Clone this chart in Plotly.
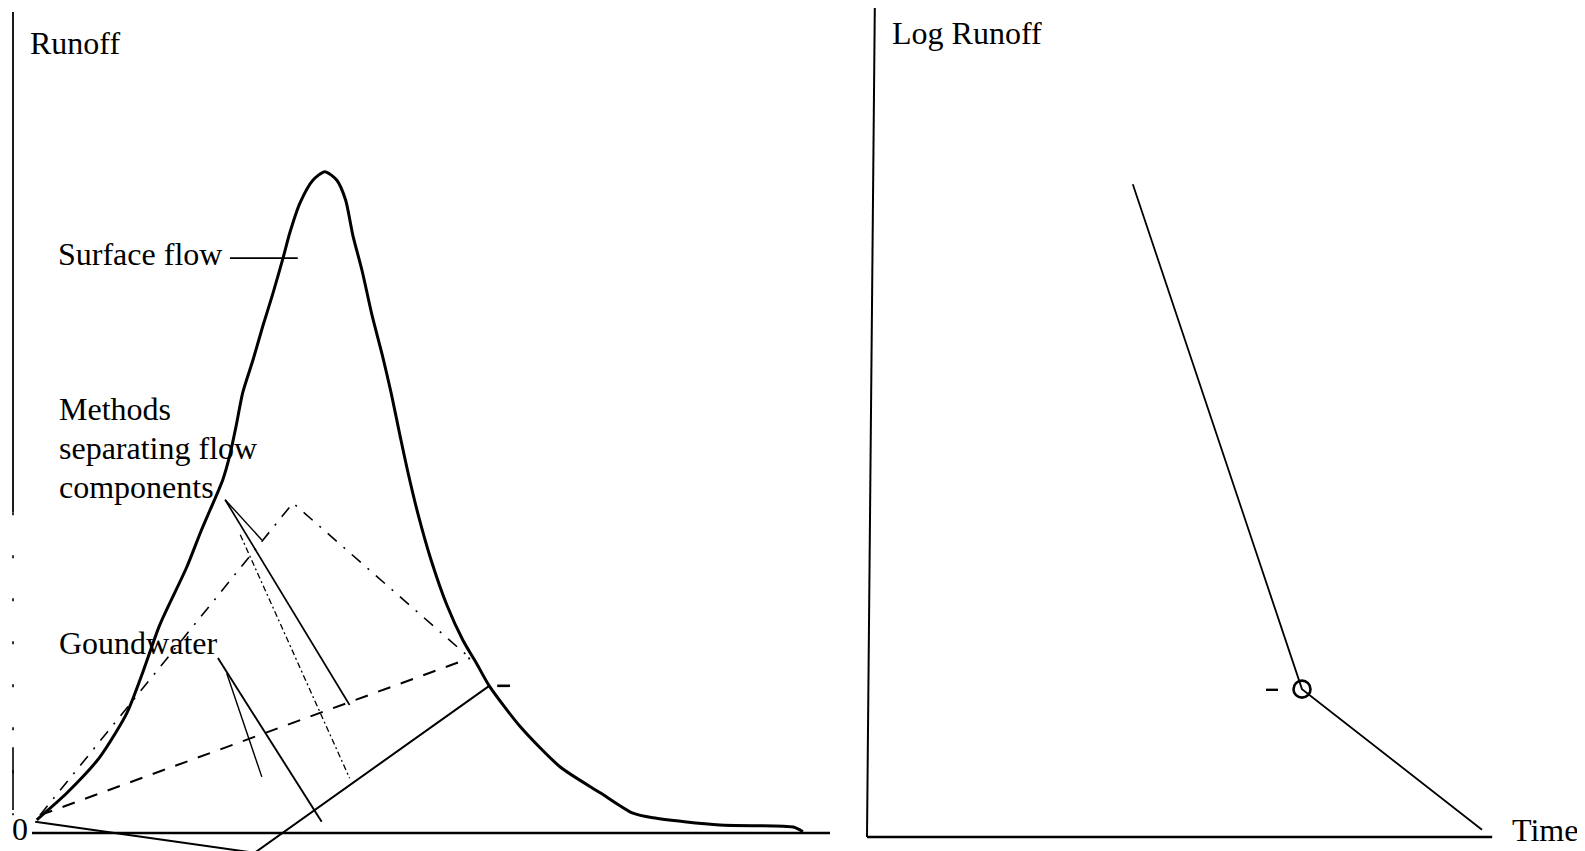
import plotly.graph_objects as go

# ---------------- data (conceptual units) ----------------
# Left panel: hydrograph (time vs runoff)
hydro_time = [0.06, 0.44, 0.85, 1.19, 1.39, 1.60, 1.94, 2.11, 2.23, 2.39, 2.48, 2.56, 2.64,
              2.77, 2.89, 3.02, 3.15, 3.23, 3.36, 3.52, 3.67, 3.82, 3.93, 4.02, 4.14, 4.26,
              4.39, 4.50, 4.61, 4.71, 4.84, 5.00, 5.20, 5.40, 5.58, 5.73, 6.12, 6.62, 7.12,
              7.53, 7.78, 8.62, 9.54, 9.66]
hydro_runoff = [0.20, 0.61, 1.15, 1.82, 2.44, 3.15, 4.03, 4.55, 4.89, 5.35, 5.73, 6.18, 6.67,
                7.17, 7.67, 8.18, 8.73, 9.09, 9.55, 9.89, 10.02, 9.89, 9.59, 9.06, 8.50, 7.85,
                7.24, 6.67, 6.03, 5.47, 4.82, 4.14, 3.45, 2.92, 2.55, 2.23, 1.61, 1.00, 0.61,
                0.30, 0.23, 0.12, 0.09, 0.02]

# separation methods
sep_solid_time = [0.04, 2.79, 5.73]
sep_solid_runoff = [0.17, -0.30, 2.23]
sep_dash_time = [0.10, 5.49]
sep_dash_runoff = [0.27, 2.65]
sep_dashdot_time = [0.10, 3.27, 5.49]
sep_dashdot_runoff = [0.27, 5.00, 2.65]

# label leader lines
surface_leader_time = [2.48, 3.33]
surface_leader_runoff = [8.71, 8.71]
comp_leader1_time = [2.42, 3.98]
comp_leader1_runoff = [5.05, 1.94]
comp_leader_short_time = [2.42, 2.88]
comp_leader_short_runoff = [5.05, 4.44]
comp_leader2_time = [2.61, 3.98]
comp_leader2_runoff = [4.52, 0.83]
gw_leader1_time = [2.33, 3.63]
gw_leader1_runoff = [2.65, 0.17]
gw_leader2_time = [2.44, 2.88]
gw_leader2_runoff = [2.42, 0.85]
left_tick_time = [5.83, 5.99]
left_tick_runoff = [2.23, 2.23]

# left axes lines
left_xaxis_time = [0.0, 10.0]
left_xaxis_runoff = [0.0, 0.0]
left_yaxis_time = [-0.238, -0.238]
left_yaxis_runoff = [12.44, 4.86]
left_yaxis_low_runoff = [4.86, 0.27]
left_yaxis_piece_runoff = [1.30, 0.35]

# Right panel: log runoff recession
log_time = [4.43, 7.25, 10.25]
log_runoff = [9.89, 2.24, 0.11]
break_time = [7.25]
break_runoff = [2.24]
right_tick_time = [6.65, 6.85]
right_tick_runoff = [2.23, 2.23]
right_xaxis_time = [0.0, 10.42]
right_xaxis_runoff = [0.0, 0.0]
right_yaxis_time = [0.13, 0.0]
right_yaxis_runoff = [12.56, 0.0]

# text labels (text, x, y, vertical anchor)
left_labels = [
    ("Runoff", -0.05, 11.97, "middle"),
    ("Surface flow", 0.30, 8.77, "middle"),
    ("Methods", 0.31, 6.42, "middle"),
    ("separating flow", 0.31, 5.83, "middle"),
    ("components", 0.31, 5.24, "middle"),
    ("Goundwater", 0.31, 2.88, "middle"),
    ("0", -0.27, -0.24, "bottom"),
]
right_labels = [
    ("Log Runoff", 0.38, 12.18, "middle"),
    ("Time", 10.72, -0.19, "bottom"),
]

# ---------------- layout mapping ----------------
W, H = 1585, 851
OFF = 8  # default page body margin
FW, FH = W - OFF, H - OFF
SPLIT = 845 - OFF
L_X0, L_SX, L_Y0, L_SY = 32 - OFF, 79.8, 833 - OFF, 66
R_X0, R_SX, R_Y0, R_SY = 867 - OFF, 60, 837 - OFF, 66

FONT = dict(family="Liberation Serif, Times New Roman, serif", size=32, color="black")

fig = go.Figure()


def add_line(x, y, ax, width=2.0, dash="solid", shape="linear"):
    fig.add_trace(go.Scatter(
        x=x, y=y, mode="lines", xaxis=ax[0], yaxis=ax[1],
        line=dict(color="black", width=width, dash=dash, shape=shape,
                  smoothing=0.7 if shape == "spline" else None),
        hoverinfo="skip", showlegend=False))


L = ("x", "y")
R = ("x2", "y2")

# left axes
add_line(left_xaxis_time, left_xaxis_runoff, L, width=2.6)
add_line(left_yaxis_time, left_yaxis_runoff, L, width=1.8)
add_line(left_yaxis_time, left_yaxis_low_runoff, L, width=1.6, dash="3px,40px")
add_line(left_yaxis_time, left_yaxis_piece_runoff, L, width=1.6)

# hydrograph
add_line(hydro_time, hydro_runoff, L, width=3.0, shape="spline")
add_line(sep_solid_time, sep_solid_runoff, L, width=2.0)
add_line(sep_dash_time, sep_dash_runoff, L, width=2.0, dash="13px,11px")
add_line(sep_dashdot_time, sep_dashdot_runoff, L, width=1.6, dash="12px,9px,2px,9px")

# leaders
add_line(surface_leader_time, surface_leader_runoff, L, width=1.6)
add_line(comp_leader1_time, comp_leader1_runoff, L, width=1.7)
add_line(comp_leader_short_time, comp_leader_short_runoff, L, width=1.4)
add_line(comp_leader2_time, comp_leader2_runoff, L, width=1.3, dash="6px,3px,2px,3px")
add_line(gw_leader1_time, gw_leader1_runoff, L, width=1.9)
add_line(gw_leader2_time, gw_leader2_runoff, L, width=1.4)
add_line(left_tick_time, left_tick_runoff, L, width=2.6)

# right axes and line
add_line(right_xaxis_time, right_xaxis_runoff, R, width=2.6)
add_line(right_yaxis_time, right_yaxis_runoff, R, width=2.0)
add_line(log_time, log_runoff, R, width=1.8)
add_line(right_tick_time, right_tick_runoff, R, width=2.4)
fig.add_trace(go.Scatter(
    x=break_time, y=break_runoff, mode="markers", xaxis="x2", yaxis="y2",
    marker=dict(symbol="circle-open", size=17, color="black", line=dict(width=2.6, color="black")),
    hoverinfo="skip", showlegend=False))

annotations = []
for txt, x, y, ya in left_labels:
    annotations.append(dict(text=txt, x=x, y=y, xref="x", yref="y", showarrow=False,
                            xanchor="left", yanchor=ya, font=FONT))
for txt, x, y, ya in right_labels:
    annotations.append(dict(text=txt, x=x, y=y, xref="x2", yref="y2", showarrow=False,
                            xanchor="left", yanchor=ya, font=FONT))

ax_common = dict(visible=False, showgrid=False, zeroline=False, fixedrange=True)
fig.update_layout(
    width=FW, height=FH, autosize=False,
    margin=dict(l=0, r=0, t=0, b=0, pad=0),
    paper_bgcolor="white", plot_bgcolor="white",
    showlegend=False,
    annotations=annotations,
    xaxis=dict(domain=[0, SPLIT / FW], range=[(0 - L_X0) / L_SX, (SPLIT - L_X0) / L_SX], **ax_common),
    yaxis=dict(domain=[0, 1], range=[(L_Y0 - FH) / L_SY, L_Y0 / L_SY], **ax_common),
    xaxis2=dict(domain=[SPLIT / FW, 1], range=[(SPLIT - R_X0) / R_SX, (FW - R_X0) / R_SX], **ax_common),
    yaxis2=dict(domain=[0, 1], range=[(R_Y0 - FH) / R_SY, R_Y0 / R_SY], anchor="x2", **ax_common),
)

fig.write_html("out.html")
